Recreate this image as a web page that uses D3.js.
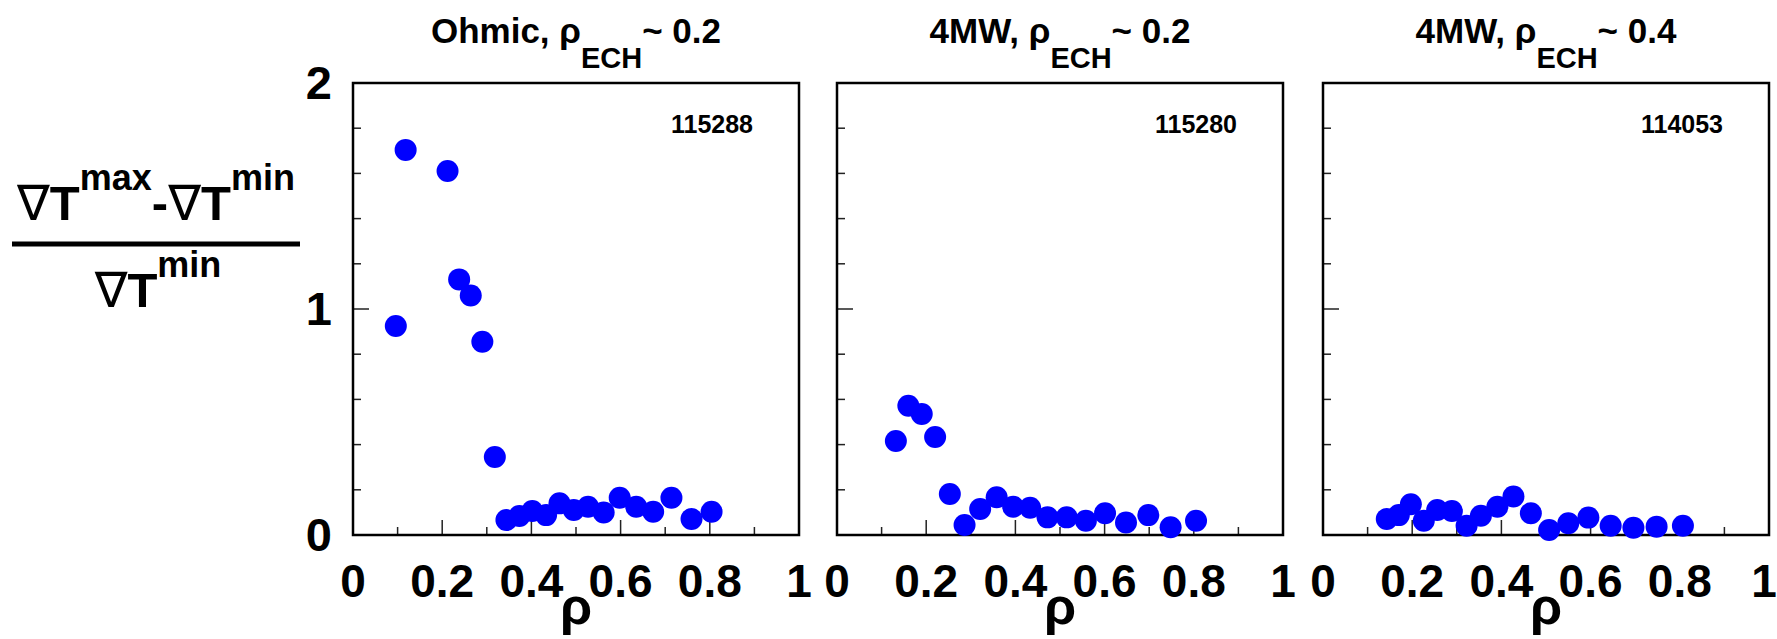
<!DOCTYPE html>
<html>
<head>
<meta charset="utf-8">
<script src="https://cdn.jsdelivr.net/npm/d3@7"></script>
<style>
  html, body { margin: 0; padding: 0; background: #fff; }
  svg text { font-family: "Liberation Sans", Arial, Helvetica, sans-serif; font-weight: bold; fill: #000; }
  svg tspan.nabla { font-family: "DejaVu Sans", sans-serif; font-weight: normal; }
</style>
</head>
<body>
<svg id="chart" width="1777" height="639"></svg>
<script>
// ---- data ----
const panelTitles = ["Ohmic, ", "4MW, ", "4MW, "];
const panelRhoECH = ["0.2", "0.2", "0.4"];
const shotNumbers = ["115288", "115280", "114053"];
const xTickLabels = ["0", "0.2", "0.4", "0.6", "0.8", "1"];
const yTickLabels = ["0", "1", "2"];

const rho1 = [0.096,0.118,0.212,0.238,0.264,0.290,0.318,0.344,0.373,0.402,0.433,0.463,0.495,0.527,0.562,0.598,0.635,0.673,0.714,0.759,0.804];
const val1 = [0.925,1.704,1.611,1.131,1.060,0.855,0.345,0.066,0.084,0.106,0.088,0.140,0.111,0.125,0.100,0.165,0.125,0.103,0.165,0.071,0.103];

const rho2 = [0.132,0.160,0.190,0.220,0.253,0.286,0.321,0.358,0.395,0.433,0.472,0.515,0.558,0.601,0.648,0.698,0.748,0.805];
const val2 = [0.416,0.572,0.535,0.434,0.181,0.044,0.115,0.167,0.125,0.121,0.078,0.078,0.063,0.096,0.055,0.088,0.034,0.063];

const rho3 = [0.143,0.170,0.197,0.226,0.256,0.289,0.322,0.354,0.391,0.427,0.466,0.507,0.550,0.595,0.645,0.696,0.748,0.807];
const val3 = [0.071,0.088,0.136,0.063,0.111,0.106,0.041,0.085,0.125,0.170,0.096,0.022,0.052,0.077,0.041,0.032,0.037,0.041];

const seriesX = [rho1, rho2, rho3];
const seriesY = [val1, val2, val3];

// ---- layout ----
const svg = d3.select("#chart");
const panelLeft = [353, 837, 1323];
const panelW = 446;
const plotTop = 83, plotBottom = 535;

const y = d3.scaleLinear().domain([0, 2]).range([plotBottom, plotTop]);

panelLeft.forEach((x0, i) => {
  const x = d3.scaleLinear().domain([0, 1]).range([x0, x0 + panelW]);
  const g = svg.append("g");

  // x ticks (inside, upward)
  const xt = d3.range(1, 10).map(d => d / 10);
  g.selectAll("line.xt").data(xt).enter().append("line")
    .attr("x1", d => x(d)).attr("x2", d => x(d))
    .attr("y1", plotBottom).attr("y2", (d, j) => plotBottom - ((j % 2 === 1) ? 15 : 8))
    .attr("stroke", "#222").attr("stroke-width", 1.5);

  // y ticks (inside, rightward)
  const yt = d3.range(1, 10).map(d => d / 5);
  g.selectAll("line.yt").data(yt).enter().append("line")
    .attr("y1", d => y(d)).attr("y2", d => y(d))
    .attr("x1", x0).attr("x2", (d, j) => x0 + (j === 4 ? 16 : 8))
    .attr("stroke", "#222").attr("stroke-width", 1.5);

  // frame
  g.append("rect").attr("x", x0).attr("y", plotTop)
    .attr("width", panelW).attr("height", plotBottom - plotTop)
    .attr("fill", "none").attr("stroke", "#000").attr("stroke-width", 2.5);

  // x tick labels
  g.selectAll("text.xl").data(xTickLabels).enter().append("text")
    .attr("x", d => Math.min(x(+d), 1764)).attr("y", 597)
    .attr("text-anchor", "middle").attr("font-size", 46)
    .text(d => d);

  // x axis title
  g.append("text").attr("x", x(0.5)).attr("y", 624)
    .attr("text-anchor", "middle").attr("font-size", 52).text("ρ");

  // title
  const t = g.append("text").attr("x", x(0.5)).attr("y", 43)
    .attr("text-anchor", "middle").attr("font-size", 35);
  t.append("tspan").text(panelTitles[i] + "ρ");
  t.append("tspan").attr("dy", 25).attr("font-size", 29).text("ECH");
  t.append("tspan").attr("dy", -25).text("~ " + panelRhoECH[i]);

  // shot number
  g.append("text").attr("x", x0 + panelW - 46).attr("y", 133)
    .attr("text-anchor", "end").attr("font-size", 25).text(shotNumbers[i]);

  // points
  const pts = seriesX[i].map((r, k) => ({ r, v: seriesY[i][k] }));
  g.selectAll("circle").data(pts).enter().append("circle")
    .attr("cx", d => x(d.r)).attr("cy", d => y(d.v)).attr("r", 11)
    .attr("fill", "#0000ff");
});

// y tick labels (first panel only)
svg.selectAll("text.yl").data(yTickLabels).enter().append("text")
  .attr("x", 332).attr("y", d => y(+d) + 16)
  .attr("text-anchor", "end").attr("font-size", 47).text(d => d);

// y axis title (fraction)
const num = svg.append("text").attr("x", 156).attr("y", 220)
  .attr("text-anchor", "middle").attr("font-size", 49);
num.append("tspan").attr("class", "nabla").text("∇");
num.append("tspan").text("T");
num.append("tspan").attr("dy", -30).attr("font-size", 36).text("max");
num.append("tspan").attr("dy", 30).text("-");
num.append("tspan").attr("class", "nabla").text("∇");
num.append("tspan").text("T");
num.append("tspan").attr("dy", -30).attr("font-size", 36).text("min");

svg.append("line").attr("x1", 12).attr("x2", 300).attr("y1", 244).attr("y2", 244)
  .attr("stroke", "#000").attr("stroke-width", 5);

const den = svg.append("text").attr("x", 158).attr("y", 307)
  .attr("text-anchor", "middle").attr("font-size", 49);
den.append("tspan").attr("class", "nabla").text("∇");
den.append("tspan").text("T");
den.append("tspan").attr("dy", -30).attr("font-size", 36).text("min");
</script>
</body>
</html>
